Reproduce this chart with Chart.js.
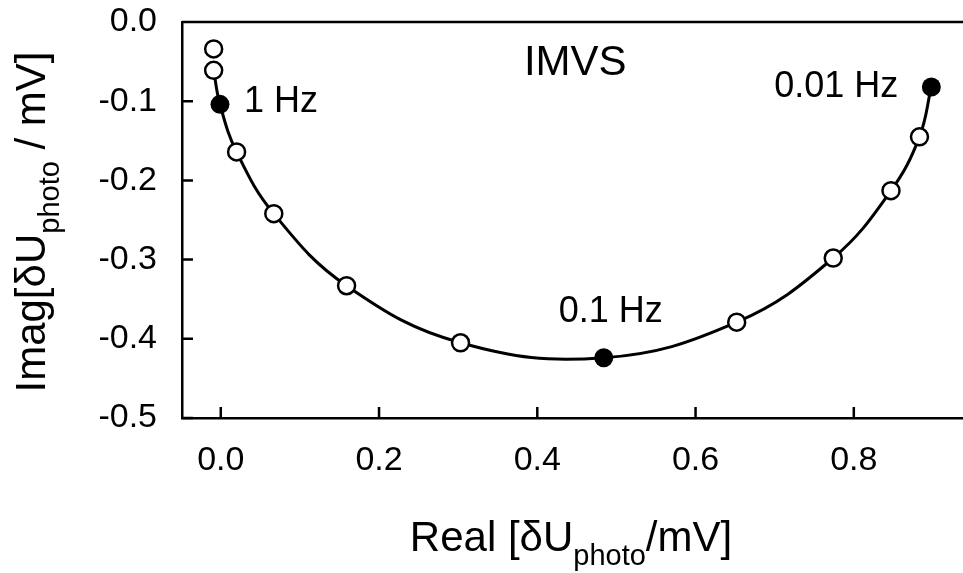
<!DOCTYPE html>
<html>
<head>
<meta charset="utf-8">
<script src="https://cdn.jsdelivr.net/npm/chart.js@4.4.1/dist/chart.umd.min.js"></script>
<style>
  html, body { margin: 0; padding: 0; background: #fff; }
</style>
</head>
<body>
<canvas id="imvs" width="963" height="573"></canvas>
<script>
// IMVS spectrum, values
const realPart = [-0.009, -0.009, -0.001, 0.020, 0.067, 0.159, 0.303, 0.484, 0.652, 0.774, 0.847, 0.883, 0.898];
const imagPart = [-0.034, -0.061, -0.104, -0.164, -0.242, -0.333, -0.405, -0.424, -0.379, -0.298, -0.213, -0.145, -0.082];
const freqLabels = ["", "", "1 Hz", "", "", "", "", "0.1 Hz", "", "", "", "", "0.01 Hz"];
const xTicks = [0.0, 0.2, 0.4, 0.6, 0.8];
const yTicks = [0.0, -0.1, -0.2, -0.3, -0.4, -0.5];

const FONT = '"Liberation Sans", Arial, Helvetica, sans-serif';

let points = realPart.map((x, i) => ({ x: x, y: imagPart[i] }));

// draws text pieces with subscripts, centred on (0,0) baseline
function drawRich(ctx, parts) {
  let total = 0;
  for (let p of parts) {
    ctx.font = p.size + "px " + FONT;
    p.w = ctx.measureText(p.t).width;
    total += p.w;
  }
  let x = -total / 2;
  ctx.textAlign = "left";
  ctx.textBaseline = "alphabetic";
  for (let p of parts) {
    ctx.font = p.size + "px " + FONT;
    ctx.fillText(p.t, x, p.dy || 0);
    x += p.w;
  }
}

let frame = {
  id: "frame",
  afterDraw(chart) {
    let ctx = chart.ctx;
    let a = chart.chartArea;
    let xs = chart.scales.x;
    let ys = chart.scales.y;
    ctx.save();
    ctx.strokeStyle = "#000";
    ctx.lineWidth = 2.5;
    ctx.beginPath();
    // top border
    ctx.moveTo(a.left, a.top);
    ctx.lineTo(a.right, a.top);
    // inward ticks
    for (let t of xs.ticks) {
      let px = xs.getPixelForValue(t.value);
      ctx.moveTo(px, a.bottom);
      ctx.lineTo(px, a.bottom - 11);
    }
    for (let t of ys.ticks) {
      let py = ys.getPixelForValue(t.value);
      ctx.moveTo(a.left, py);
      ctx.lineTo(a.left + 11, py);
    }
    ctx.stroke();

    // frequency labels
    ctx.fillStyle = "#000";
    ctx.font = "36px " + FONT;
    ctx.textBaseline = "alphabetic";
    freqLabels.forEach((lab, i) => {
      if (!lab) return;
      let px = xs.getPixelForValue(realPart[i]);
      let py = ys.getPixelForValue(imagPart[i]);
      if (i === 2) {
        ctx.textAlign = "left";
        ctx.fillText(lab, px + 24, py + 8);
      } else if (i === freqLabels.length - 1) {
        ctx.textAlign = "right";
        ctx.fillText(lab, px - 33, py + 10);
      } else {
        ctx.textAlign = "center";
        ctx.fillText(lab, px + 7, py - 36);
      }
    });

    // IMVS
    ctx.font = "42px " + FONT;
    ctx.textAlign = "center";
    ctx.fillText("IMVS", xs.getPixelForValue(0.448), 75);

    // x title
    ctx.save();
    ctx.translate(571, 551);
    drawRich(ctx, [
      { t: "Real [\u03B4U", size: 42 },
      { t: "photo", size: 29, dy: 14 },
      { t: "/mV]", size: 42 }
    ]);
    ctx.restore();

    // y title
    ctx.save();
    ctx.translate(45, 222);
    ctx.rotate(-Math.PI / 2);
    drawRich(ctx, [
      { t: "Imag[\u03B4U", size: 42 },
      { t: "photo", size: 29, dy: 14 },
      { t: " / mV]", size: 42 }
    ]);
    ctx.restore();
    ctx.restore();
  }
};

let ctx = document.getElementById("imvs");
let chart = new Chart(ctx, {
  type: "scatter",
  data: {
    datasets: [
      {
        // measured points
        data: points,
        showLine: false,
        pointRadius: freqLabels.map(f => (f ? 9.5 : 8.5)),
        pointBackgroundColor: freqLabels.map(f => (f ? "#000" : "#fff")),
        pointBorderColor: "#000",
        pointBorderWidth: freqLabels.map(f => (f ? 0 : 2.5)),
        order: 0
      },
      {
        // fitted curve
        data: points.slice(1),
        showLine: true,
        pointRadius: 0,
        borderColor: "#000",
        borderWidth: 3,
        tension: 0.4,
        order: 1
      }
    ]
  },
  options: {
    responsive: false,
    animation: false,
    devicePixelRatio: 1,
    layout: { autoPadding: false, padding: { top: 22, right: 0, left: 0, bottom: 0 } },
    plugins: { legend: { display: false }, tooltip: { enabled: false } },
    scales: {
      x: {
        type: "linear",
        min: -0.049,
        max: 0.938,
        afterBuildTicks: s => { s.ticks = xTicks.map(v => ({ value: v })); },
        afterFit: s => {
          s.height = 155;
          s.paddingLeft = 0;
          s.paddingRight = 0;
        },
        grid: { display: false, drawTicks: false },
        border: { display: true, color: "#000", width: 2.5 },
        ticks: {
          color: "#000",
          font: { family: FONT, size: 34 },
          padding: 22,
          maxRotation: 0,
          autoSkip: false,
          callback: v => v.toFixed(1)
        }
      },
      y: {
        type: "linear",
        min: -0.5,
        max: 0.0,
        afterBuildTicks: s => { s.ticks = yTicks.map(v => ({ value: v })); },
        afterFit: s => {
          s.width = 182;
          s.paddingTop = 0;
          s.paddingBottom = 0;
        },
        grid: { display: false, drawTicks: false },
        border: { display: true, color: "#000", width: 2.5 },
        ticks: {
          color: "#000",
          font: { family: FONT, size: 34 },
          padding: 25,
          autoSkip: false,
          callback: v => v.toFixed(1)
        }
      }
    }
  },
  plugins: [frame]
});
</script>
</body>
</html>
